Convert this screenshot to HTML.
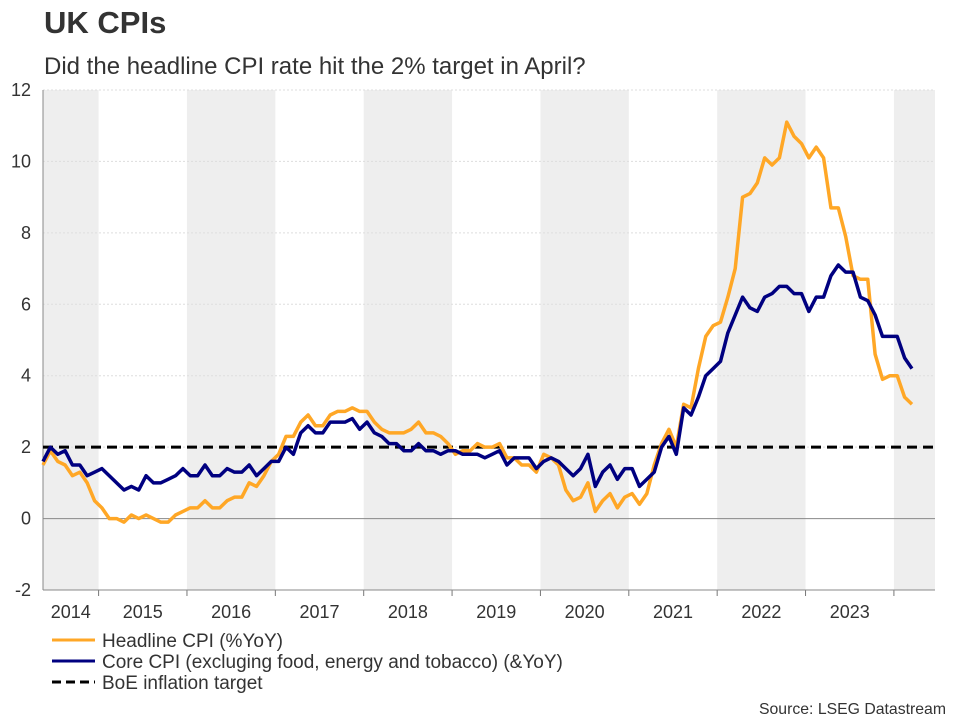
<!DOCTYPE html>
<html><head><meta charset="utf-8"><style>
body{margin:0;background:#fff;font-family:"Liberation Sans",Arial,sans-serif;}
svg text{font-family:"Liberation Sans",Arial,sans-serif;}
</style></head><body>
<svg id="c" width="960" height="720" xmlns="http://www.w3.org/2000/svg">
<text x="44" y="33" font-size="31" font-weight="bold" fill="#333">UK CPIs</text>
<text x="44" y="74" font-size="24" fill="#333">Did the headline CPI rate hit the 2% target in April?</text>
<g id="shade"></g><g id="grid"></g><g id="axes"></g><g id="series"></g>
<g>
<line x1="52" y1="640" x2="95" y2="640" stroke="#FFA726" stroke-width="3"/>
<text x="102" y="647" font-size="19" fill="#333">Headline CPI (%YoY)</text>
<line x1="52" y1="661" x2="95" y2="661" stroke="#000080" stroke-width="3"/>
<text x="102" y="668" font-size="19" fill="#333">Core CPI (excluging food, energy and tobacco) (&amp;YoY)</text>
<line x1="52" y1="682" x2="95" y2="682" stroke="#000" stroke-width="3" stroke-dasharray="9,5"/>
<text x="102" y="689" font-size="19" fill="#333">BoE inflation target</text>
</g>
<text x="946" y="714" font-size="15.8" fill="#333" text-anchor="end">Source: LSEG Datastream</text>
</svg>
<script>
// Monthly data May 2014 .. Mar 2024
const startYear = 2014, startMonth = 5;
const headline = [1.5,1.9,1.6,1.5,1.2,1.3,1.0,0.5,
0.3,0.0,0.0,-0.1,0.1,0.0,0.1,0.0,-0.1,-0.1,0.1,0.2,
0.3,0.3,0.5,0.3,0.3,0.5,0.6,0.6,1.0,0.9,1.2,1.6,
1.8,2.3,2.3,2.7,2.9,2.6,2.6,2.9,3.0,3.0,3.1,3.0,
3.0,2.7,2.5,2.4,2.4,2.4,2.5,2.7,2.4,2.4,2.3,2.1,
1.8,1.9,1.9,2.1,2.0,2.0,2.1,1.7,1.7,1.5,1.5,1.3,
1.8,1.7,1.5,0.8,0.5,0.6,1.0,0.2,0.5,0.7,0.3,0.6,
0.7,0.4,0.7,1.5,2.1,2.5,2.0,3.2,3.1,4.2,5.1,5.4,
5.5,6.2,7.0,9.0,9.1,9.4,10.1,9.9,10.1,11.1,10.7,10.5,
10.1,10.4,10.1,8.7,8.7,7.9,6.8,6.7,6.7,4.6,3.9,4.0,
4.0,3.4,3.2];
const core = [1.6,2.0,1.8,1.9,1.5,1.5,1.2,1.3,
1.4,1.2,1.0,0.8,0.9,0.8,1.2,1.0,1.0,1.1,1.2,1.4,
1.2,1.2,1.5,1.2,1.2,1.4,1.3,1.3,1.5,1.2,1.4,1.6,
1.6,2.0,1.8,2.4,2.6,2.4,2.4,2.7,2.7,2.7,2.8,2.5,
2.7,2.4,2.3,2.1,2.1,1.9,1.9,2.1,1.9,1.9,1.8,1.9,
1.9,1.8,1.8,1.8,1.7,1.8,1.9,1.5,1.7,1.7,1.7,1.4,
1.6,1.7,1.6,1.4,1.2,1.4,1.8,0.9,1.3,1.5,1.1,1.4,
1.4,0.9,1.1,1.3,2.0,2.3,1.8,3.1,2.9,3.4,4.0,4.2,
4.4,5.2,5.7,6.2,5.9,5.8,6.2,6.3,6.5,6.5,6.3,6.3,
5.8,6.2,6.2,6.8,7.1,6.9,6.9,6.2,6.1,5.7,5.1,5.1,
5.1,4.5,4.2];
const target = 2;
const yTicks = [-2,0,2,4,6,8,10,12];
const years = [2014,2015,2016,2017,2018,2019,2020,2021,2022,2023,2024];

const L=43,R=935,T=90,B=590,yMin=-2,yMax=12,step=7.364;
const X=i=>L+i*step;
const Y=v=>B-(v-yMin)/(yMax-yMin)*(B-T);
const NS="http://www.w3.org/2000/svg";
function mk(tag,attrs,parent){const e=document.createElementNS(NS,tag);for(const k in attrs)e.setAttribute(k,attrs[k]);document.getElementById(parent).appendChild(e);return e;}
const yrIdx=y=>(y-startYear)*12+(1-startMonth)-0.45;
years.forEach((y,k)=>{
  const a=Math.max(L,X(yrIdx(y))), b=Math.min(R,X(yrIdx(y+1)));
  if(b<=a) return;
  if(k%2===0){const r=mk('rect',{x:a,y:T,width:b-a,height:B-T,fill:'#eeeeee'},'shade');
  
  }
  if(y<2024){const t=mk('text',{x:(a+b)/2,y:618,'font-size':18,fill:'#333','text-anchor':'middle'},'axes');t.textContent=y;
  
  }
  if(a>L){mk('line',{x1:a,y1:B,x2:a,y2:B+6,stroke:'#777'},'axes');}
});
yTicks.forEach(v=>{
  const g=mk('line',{x1:L,y1:Y(v),x2:R,y2:Y(v),stroke:v===0?'#888':'#ddd','stroke-dasharray':v===0?'none':'2,2','stroke-width':1},'grid');
  
  
  const t=mk('text',{x:L-12,y:Y(v)+6,'font-size':18,fill:'#333','text-anchor':'end'},'axes');t.textContent=v;
  
  
});
mk('line',{x1:L,y1:T,x2:L,y2:B,stroke:'#888'},'axes');
mk('line',{x1:L,y1:B,x2:R,y2:B,stroke:'#888'},'axes');
const tl=mk('line',{x1:L,y1:Y(target),x2:R,y2:Y(target),stroke:'#000','stroke-width':3,'stroke-dasharray':'10,6'},'series');


function line(d,c,n){const p=mk('polyline',{points:d.map((v,i)=>X(i)+','+Y(v)).join(' '),fill:'none',stroke:c,'stroke-width':3.5,'stroke-linejoin':'round'},'series');

}
line(headline,'#FFA726','headline-cpi-line');
line(core,'#000080','core-cpi-line');
</script>
</body></html>
